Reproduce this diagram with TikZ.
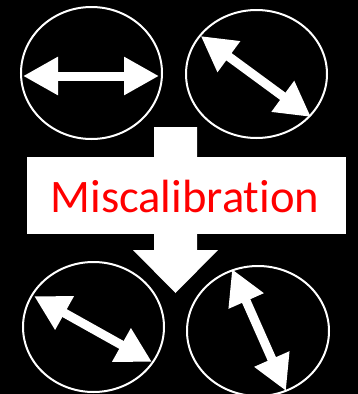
\documentclass[tikz,border=0pt]{standalone}
\usepackage{fontspec}
\setmainfont{Carlito}[Ligatures={NoCommon}]
\usetikzlibrary{arrows.meta,shapes.geometric}
\begin{document}
\begin{tikzpicture}[x=1pt,y=-1pt,
  ring/.style={draw=white, line width=2pt, ellipse, inner sep=0pt},
  dbl/.style={white, line width=9pt,
    {Triangle[length=35pt,width=36pt]}-{Triangle[length=35pt,width=36pt]}},
  bigarrow/.style={fill=white, draw=none}]
\fill[black] (0,0) rectangle (358,394);
\useasboundingbox (0,0) rectangle (358,394);
% rings
\node[ring, minimum width=141pt, minimum height=132pt] (c1) at (91.5,73) {};
\node[ring, minimum width=141pt, minimum height=128pt] (c2) at (256.5,74) {};
\node[ring, minimum width=141pt, minimum height=130pt] (c3) at (93.5,327) {};
\node[ring, minimum width=142pt, minimum height=130pt] (c4) at (258,331) {};
% arrow end points
\coordinate (a1s) at (23,76);   \coordinate (a1e) at (159,76);
\coordinate (a2s) at (200.7,36); \coordinate (a2e) at (311,117);
\coordinate (a3s) at (34,296);  \coordinate (a3e) at (152,362);
\coordinate (a4s) at (232,269); \coordinate (a4e) at (286,391);
\draw[dbl] (a1s) -- (a1e);
\draw[dbl] (a2s) -- (a2e);
\draw[dbl] (a3s) -- (a3e);
\draw[dbl] (a4s) -- (a4e);
% big down arrow
\fill[bigarrow] (154,127) -- (197,127) -- (197,250) -- (218,250) -- (175.5,293) -- (133,250) -- (154,250) -- cycle;
\fill[white] (27,157) rectangle (346,234);
\node[anchor=base, text=red, inner sep=0pt, font=\fontsize{46.6}{50}\selectfont] (lbl) at (185,212) {Miscalibration};
\end{tikzpicture}
\end{document}
